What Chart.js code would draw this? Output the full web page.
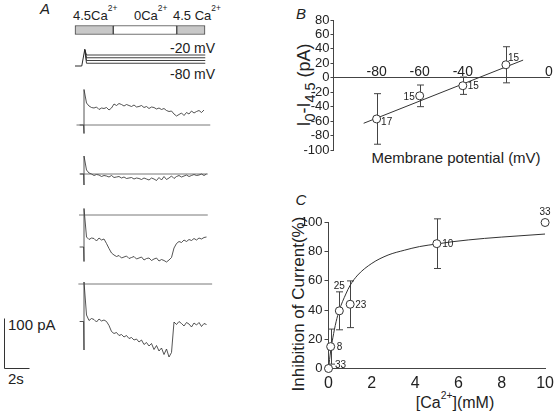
<!DOCTYPE html>
<html lang="en">
<head>
<meta charset="utf-8">
<title>Ca2+ inhibition of current</title>
<script src="https://cdn.jsdelivr.net/npm/chart.js@4.4.1/dist/chart.umd.min.js"></script>
<style>
  body { margin: 0; background: #fff; }
  #fig { position: relative; width: 559px; height: 411px; overflow: hidden;
         font-family: "Liberation Sans", Arial, sans-serif; color: #222; }
  #fig canvas { position: absolute; }
  .t { position: absolute; white-space: nowrap; line-height: 1; transform: translate(-50%, -50%); }
  .l { transform: translate(0, -50%); }
  .rot { transform: translate(-50%, -50%) rotate(-90deg); }
  .panel { font-style: italic; font-size: 15px; }
  .sp { font-size: 0.65em; position: relative; top: -1.1em; }
  .sb { font-size: 0.8em; position: relative; top: 0.35em; }
</style>
</head>
<body>
<div id="fig">
  <!-- panel A text -->
  <div class="t panel" style="left:45px;top:8px">A</div>
  <div class="t l" style="left:73px;top:15px;font-size:13px">4.5Ca<span class="sp">2+</span></div>
  <div class="t l" style="left:134px;top:15px;font-size:13px">0Ca<span class="sp">2+</span></div>
  <div class="t l" style="left:173px;top:15px;font-size:13px">4.5 Ca<span class="sp">2+</span></div>
  <div class="t l" style="left:170px;top:48px;font-size:14px">-20 mV</div>
  <div class="t l" style="left:170px;top:74px;font-size:14px">-80 mV</div>
  <div class="t l" style="left:8px;top:324px;font-size:15px">100 pA</div>
  <div class="t l" style="left:8px;top:378px;font-size:15px">2s</div>

  <!-- panel B text -->
  <div class="t panel" style="left:301px;top:13px">B</div>
  <div class="t rot" style="left:304px;top:85px;font-size:18px">I<span class="sb">0</span>-I<span class="sb">4.5</span> (pA)</div>
  <div class="t" style="left:456px;top:157px;font-size:15px">Membrane potential (mV)</div>

  <!-- panel C text -->
  <div class="t panel" style="left:301px;top:199px">C</div>
  <div class="t rot" style="left:298px;top:304px;font-size:17px">Inhibition of Current(%)</div>
  <div class="t" style="left:455px;top:403px;font-size:16px">[Ca<span class="sp" style="top:-0.9em">2+</span>](mM)</div>
</div>

<script>
Chart.defaults.font.family = '"Liberation Sans", Arial, sans-serif';
Chart.defaults.color = "#222";

// ---- panel A data ----
// current traces in pA, sampled every 0.2 s from t = 0.2 s
const sampleStart = 0.2;
const sampleStep = 0.2;
const trace1 = [44, 38, 35, 34, 36, 31, 34, 33, 35, 30, 34, 42, 39, 43, 41, 38, 41, 39, 37, 40,
  36, 37, 39, 35, 37, 33, 36, 35, 32, 34, 31, 33, 29, 27, 28, 22, 18, 21, 24, 19,
  25, 22, 28, 24, 27, 29, 25, 30];
const trace2 = [8, 2, 0, -3, -1, -2, -5, -3, -4, -6, -3, -7, -6, -5, -8, -6, -9, -8, -7, -10,
  -8, -9, -11, -8, -10, -12, -8, -10, -13, -7, -12, -5, -11, -8, -4, -9, -5, -3, -6, -4,
  -2, -5, -3, -1, -3, -2, 0, -3, 0];
const trace3 = [-44, -49, -46, -47, -52, -46, -50, -48, -57, -67, -76, -80, -83, -81, -86, -84, -82, -87, -85, -83,
  -88, -86, -84, -90, -87, -86, -91, -88, -86, -92, -89, -91, -94, -90, -85, -66, -57, -53, -55, -50,
  -53, -49, -51, -47, -50, -46, -48, -45, -44];
const trace4 = [-62, -73, -69, -71, -76, -70, -74, -72, -75, -83, -95, -99, -97, -103, -101, -106, -103, -109, -107, -112,
  -110, -116, -112, -121, -117, -124, -119, -131, -123, -134, -128, -141, -130, -146, -137, -76, -81, -75, -79, -84,
  -77, -80, -86, -78, -82, -77, -85, -79, -81];
const traces = [trace1, trace2, trace3, trace4];
const preStep = [0, 0, -64, -75];     // current just before the step
const spikeLo = [-17, -22, -93, -132]; // capacity transient
const spikeHi = [71, 36, 13, 4];
const baselineFrom = [-0.6, -0.3, -0.4, -0.45];
const baselineTo = [10.1, 9.9, 9.9, 10.25];

// bath solutions (s)
const solutionStart = [-0.72, 2.34, 7.42];
const solutionEnd = [2.34, 7.42, 9.68];
const solutionCa = [4.5, 0, 4.5];

// voltage protocol (mV)
const holdingMV = -100;
const prepulseMV = 20;
const stepMV = [-20, -40, -60, -80];
const protocolTimes = [-0.72, -0.18, 0.06, 0.2, 9.7];

// scale bar
const scaleBarPA = 100;
const scaleBarSec = 2;

// ---- panel B data ----
const ivVoltage = [-80, -60, -40, -20];
const ivCurrent = [-57, -25, -11, 18];
const ivError = [35, 15, 12, 25];
const ivN = [17, 15, 15, 15];
const ivFitV = [-86, -12];
const ivFitI = [-63, 24.5];
const ivXTicks = [-80, -60, -40, 0];

// ---- panel C data ----
const doseCa = [0, 0.1, 0.5, 1, 5, 10];
const doseInhib = [0, 15, 39.5, 44, 85.5, 100];
const doseError = [0, 12, 13, 16, 17, 0];
const doseN = [33, 8, 25, 23, 10, 33];
const fitCa = [0, 0.1, 0.2, 0.35, 0.5, 0.8, 1, 1.35, 2, 2.75, 3.5, 4.2, 5, 5.7, 7.2, 8.75, 10];
const fitInhib = [0, 12, 21, 32, 40, 51, 57, 64, 72, 77.7, 81, 83.5, 85.3, 86.8, 89.1, 90.8, 92.1];

// ---- layout ----
const zeroTimePx = 84;
const pxPerSec = 12.5;
const pxPerPA = 0.5;
const traceWidth = 215;
const tMin = -zeroTimePx / pxPerSec;
const tMax = (traceWidth - zeroTimePx) / pxPerSec;
const traceBoxes = [
  { top: 82, height: 56, zeroRow: 125 },
  { top: 148, height: 42, zeroRow: 174 },
  { top: 198, height: 70, zeroRow: 215 },
  { top: 272, height: 100, zeroRow: 284 },
];
const protoBox = { top: 42, height: 30, refMV: -20, refRow: 55, pxPerMV: 0.1375 };
const ink = "#2a2a2a";

function makeCanvas(left, top, w, h) {
  const c = document.createElement("canvas");
  c.width = w;
  c.height = h;
  c.style.left = left + "px";
  c.style.top = top + "px";
  c.style.width = w + "px";
  c.style.height = h + "px";
  document.getElementById("fig").appendChild(c);
  return c;
}

function bareOptions(yMin, yMax) {
  return {
    responsive: false,
    animation: false,
    events: [],
    layout: { padding: 0 },
    plugins: { legend: { display: false }, tooltip: { enabled: false } },
    scales: {
      x: { type: "linear", display: false, min: tMin, max: tMax },
      y: { type: "linear", display: false, min: yMin, max: yMax },
    },
  };
}

const line = (data, color, width) => ({
  data, showLine: true, pointRadius: 0, borderColor: color, borderWidth: width, tension: 0,
});

// scale bar drawn with the trace's own scales
const scaleBar = {
  id: "scaleBar",
  afterDraw(chart) {
    const { ctx, scales: { x, y } } = chart;
    const h = Math.abs(y.getPixelForValue(scaleBarPA) - y.getPixelForValue(0));
    const w = x.getPixelForValue(scaleBarSec) - x.getPixelForValue(0);
    const sx = 4.5, sy = 96.5;
    ctx.save();
    ctx.strokeStyle = "#333";
    ctx.lineWidth = 1;
    ctx.beginPath();
    ctx.moveTo(sx, sy - h);
    ctx.lineTo(sx, sy);
    ctx.lineTo(sx + w, sy);
    ctx.stroke();
    ctx.restore();
  },
};

// solution bar
new Chart(makeCanvas(0, 20, traceWidth, 20), {
  type: "bar",
  data: {
    labels: ["bath"],
    datasets: solutionStart.map((s, i) => ({
      data: [[s, solutionEnd[i]]],
      backgroundColor: solutionCa[i] > 0 ? "#c8c8c8" : "#fff",
      borderColor: "#444",
      borderWidth: 1,
      borderSkipped: false,
      barThickness: 9,
      grouped: false,
    })),
  },
  options: {
    indexAxis: "y",
    responsive: false,
    animation: false,
    events: [],
    plugins: { legend: { display: false }, tooltip: { enabled: false } },
    scales: {
      x: { type: "linear", display: false, min: tMin, max: tMax },
      y: { display: false },
    },
  },
});

// voltage protocol
{
  const b = protoBox;
  const yMax = b.refMV + (b.refRow - b.top) / b.pxPerMV;
  const yMin = b.refMV - (b.top + b.height - b.refRow) / b.pxPerMV;
  const [t0, t1, t2, t3, t4] = protocolTimes;
  const sets = [line([{ x: t0, y: holdingMV }, { x: t1, y: holdingMV }, { x: t2, y: prepulseMV }], ink, 1)];
  stepMV.forEach((v) => {
    sets.push(line([{ x: t2, y: prepulseMV }, { x: t3, y: v }, { x: t4, y: v }], ink, 0.9));
  });
  new Chart(makeCanvas(0, b.top, traceWidth, b.height), {
    type: "scatter",
    data: { datasets: sets },
    options: bareOptions(yMin, yMax),
  });
}

// current traces
traces.forEach((values, k) => {
  const box = traceBoxes[k];
  const pts = [
    { x: -0.35, y: preStep[k] },
    { x: -0.03, y: preStep[k] },
    { x: 0, y: spikeLo[k] },
    { x: 0, y: spikeHi[k] },
  ];
  values.forEach((v, i) => pts.push({ x: sampleStart + i * sampleStep, y: v }));
  const yMax = (box.zeroRow - box.top) / pxPerPA;
  const yMin = -(box.top + box.height - box.zeroRow) / pxPerPA;
  new Chart(makeCanvas(0, box.top, traceWidth, box.height), {
    type: "scatter",
    data: {
      datasets: [
        line([{ x: baselineFrom[k], y: 0 }, { x: baselineTo[k], y: 0 }], "#555", 0.8),
        line(pts, ink, 0.8),
      ],
    },
    options: bareOptions(yMin, yMax),
    plugins: k === 3 ? [scaleBar] : [],
  });
});

// error bars and n labels for panels B and C
function errorBars(xs, ys, errs) {
  return {
    id: "errorBars",
    beforeDatasetsDraw(chart) {
      const { ctx, scales: { x, y } } = chart;
      ctx.save();
      ctx.strokeStyle = "#444";
      ctx.lineWidth = 1;
      xs.forEach((v, i) => {
        if (!errs[i]) return;
        const px = Math.round(x.getPixelForValue(v)) + 0.5;
        const top = y.getPixelForValue(ys[i] + errs[i]);
        const bot = y.getPixelForValue(ys[i] - errs[i]);
        ctx.beginPath();
        ctx.moveTo(px, top);
        ctx.lineTo(px, bot);
        ctx.moveTo(px - 3.5, top);
        ctx.lineTo(px + 3.5, top);
        ctx.moveTo(px - 3.5, bot);
        ctx.lineTo(px + 3.5, bot);
        ctx.stroke();
      });
      ctx.restore();
    },
  };
}

function countLabels(xs, ys, ns, offsets) {
  return {
    id: "countLabels",
    afterDatasetsDraw(chart) {
      const { ctx, scales: { x, y } } = chart;
      ctx.save();
      ctx.font = '10px "Liberation Sans", Arial, sans-serif';
      ctx.fillStyle = "#222";
      ctx.textBaseline = "middle";
      ns.forEach((n, i) => {
        const [dx, dy, align] = offsets[i];
        ctx.textAlign = align;
        ctx.fillText(String(n), x.getPixelForValue(xs[i]) + dx, y.getPixelForValue(ys[i]) + dy);
      });
      ctx.restore();
    },
  };
}

const markers = {
  pointRadius: 4,
  pointBackgroundColor: "#fff",
  pointBorderColor: "#333",
  pointBorderWidth: 1,
  clip: false,
  order: 1,
};

// I-V plot (B)
new Chart(makeCanvas(290, 0, 269, 175), {
  type: "scatter",
  data: {
    datasets: [
      { ...line(ivFitV.map((v, i) => ({ x: v, y: ivFitI[i] })), "#333", 1), order: 2 },
      { data: ivVoltage.map((v, i) => ({ x: v, y: ivCurrent[i] })), ...markers },
    ],
  },
  options: {
    responsive: false,
    animation: false,
    events: [],
    layout: { padding: { left: 0, right: 10, top: 20, bottom: 25 } },
    plugins: { legend: { display: false }, tooltip: { enabled: false } },
    scales: {
      x: {
        type: "linear", min: -100, max: 0, position: { y: 0 },
        grid: { display: false, drawTicks: false },
        border: { display: true, color: "#444", width: 1 },
        ticks: {
          stepSize: 20, padding: -14, maxRotation: 0, autoSkip: false,
          font: { size: 14 },
          callback: (v) => (ivXTicks.includes(v) ? String(v) : ""),
        },
      },
      y: {
        type: "linear", min: -100, max: 80, position: "left",
        afterFit: (s) => { s.width = 43.5; },
        grid: { display: true, drawOnChartArea: false, drawTicks: true, tickLength: 3, color: "#444" },
        border: { display: true, color: "#444", width: 1 },
        ticks: { stepSize: 20, padding: 1, autoSkip: false, font: { size: 13 } },
      },
    },
  },
  plugins: [
    errorBars(ivVoltage, ivCurrent, ivError),
    countLabels(ivVoltage, ivCurrent, ivN, [[4.5, 3, "left"], [-5, 1, "right"], [5, 1, "left"], [2, -7, "left"]]),
  ],
});

// dose-response (C)
new Chart(makeCanvas(290, 185, 269, 226), {
  type: "scatter",
  data: {
    datasets: [
      { ...line(fitCa.map((v, i) => ({ x: v, y: fitInhib[i] })), "#333", 1), cubicInterpolationMode: "monotone", order: 2 },
      { data: doseCa.map((v, i) => ({ x: v, y: doseInhib[i] })), ...markers },
    ],
  },
  options: {
    responsive: false,
    animation: false,
    events: [],
    layout: { padding: { left: 0, right: 12, top: 37.5, bottom: 0 } },
    plugins: { legend: { display: false }, tooltip: { enabled: false } },
    scales: {
      x: {
        type: "linear", min: 0, max: 10, position: "bottom",
        afterFit: (s) => { s.height = 42.5; },
        grid: { display: false, drawTicks: false },
        border: { display: true, color: "#444", width: 1 },
        ticks: { stepSize: 2, padding: 5, maxRotation: 0, font: { size: 16 } },
      },
      y: {
        type: "linear", min: 0, max: 100, position: "left",
        afterFit: (s) => { s.width = 38.5; },
        grid: { display: true, drawOnChartArea: false, drawTicks: true, tickLength: 4, color: "#444" },
        border: { display: true, color: "#444", width: 1 },
        ticks: { stepSize: 20, padding: 2, autoSkip: false, font: { size: 13 } },
      },
    },
  },
  plugins: [
    errorBars(doseCa, doseInhib, doseError),
    countLabels(doseCa, doseInhib, doseN, [
      [6.5, -3.5, "left"], [6, 0.5, "left"], [0, -25, "center"],
      [5, 0.5, "left"], [5.5, 0.5, "left"], [0, -10, "center"],
    ]),
  ],
});
</script>
</body>
</html>
